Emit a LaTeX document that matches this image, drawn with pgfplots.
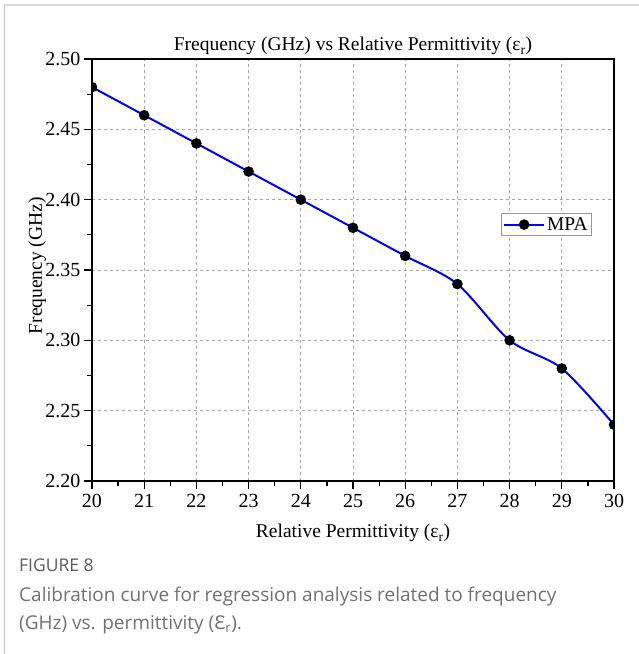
\documentclass[border=0pt]{standalone}
\usepackage{fontspec}
\setmainfont{Liberation Serif}
\newfontfamily\capfont{Open Sans}
\newfontfamily\symfont{Noto Sans}
\usepackage{pgfplots}
\pgfplotsset{compat=1.18}
\definecolor{capgray}{HTML}{707070}
\definecolor{figgray}{HTML}{5A5A5A}
\begin{document}
\begin{tikzpicture}[x=1pt,y=1pt]
\useasboundingbox (0,0) rectangle (639,654);
\draw[gray!30, line width=1.5pt] (4,649) -- (639,649);
\draw[gray!45, line width=0.8pt] (4,649) -- (4,0);
\begin{axis}[
  at={(92pt,173pt)}, anchor=south west,
  scale only axis, width=522pt, height=422pt,
  xmin=20, xmax=30, ymin=2.2, ymax=2.5,
  clip marker paths=true,
  xtick={20,21,...,30},
  ytick={2.20,2.25,2.30,2.35,2.40,2.45,2.50},
  minor x tick num=1, minor y tick num=1,
  xtick pos=left, ytick pos=left,
  tick align=outside,
  major tick length=8pt, minor tick length=5pt,
  every tick/.style={black, line width=1.2pt},
  axis line style={black, line width=1.6pt},
  grid=major,
  major grid style={gray!70, line width=0.7pt, dash pattern=on 3pt off 3pt},
  tick label style={font=\fontsize{20}{20}\selectfont},
  x tick label style={yshift=-2pt},
  /pgf/number format/assume math mode=true,
  y tick label style={/pgf/number format/.cd, fixed, fixed zerofill, precision=2},
  title={Frequency (GHz) vs Relative Permittivity (ε\textsubscript{r})},
  title style={font=\fontsize{19.5}{19.5}\selectfont, at={(axis description cs:0.5,1)}, anchor=base, yshift=2pt},
  xlabel={Relative Permittivity (ε\textsubscript{r})},
  xlabel style={font=\fontsize{19.5}{19.5}\selectfont, at={(axis description cs:0.5,0)}, anchor=base, yshift=-57pt},
  ylabel={Frequency (GHz)},
  ylabel style={font=\fontsize{19.5}{19.5}\selectfont, at={(axis description cs:-0.105,0.51)}, anchor=center},
  legend style={at={(0.783,0.635)}, anchor=north west, draw=gray!80, line width=0.8pt,
    font=\fontsize{19.5}{19.5}\selectfont, inner sep=2pt},
  legend image code/.code={\draw[mark repeat=2,mark phase=2] plot coordinates {(0pt,0pt) (20pt,0pt) (40pt,0pt)};},
]
\addplot[blue, line width=2pt, smooth, mark=*, mark size=5pt, mark options={black, fill=black, line width=0.5pt}]
coordinates {
(20,2.48) (21,2.46) (22,2.44) (23,2.42) (24,2.40) (25,2.38)
(26,2.36) (27,2.34) (28,2.30) (29,2.28) (30,2.24)
};
\addlegendentry{MPA}
\end{axis}
\node[anchor=base west, inner sep=0pt, text=figgray, font=\capfont\fontsize{17.5}{17.5}\selectfont] at (19,82) {FIGURE 8};
\node[anchor=base west, inner sep=0pt, text=capgray, font=\capfont\fontsize{19}{19}\selectfont] at (19,52) {Calibration curve for regression analysis related to frequency};
\node[anchor=base west, inner sep=0pt, text=capgray, font=\capfont\fontsize{19}{19}\selectfont] at (19,24) {(GHz) vs. permittivity ({\symfont Ɛ}\textsubscript{r}).};
\end{tikzpicture}
\end{document}
